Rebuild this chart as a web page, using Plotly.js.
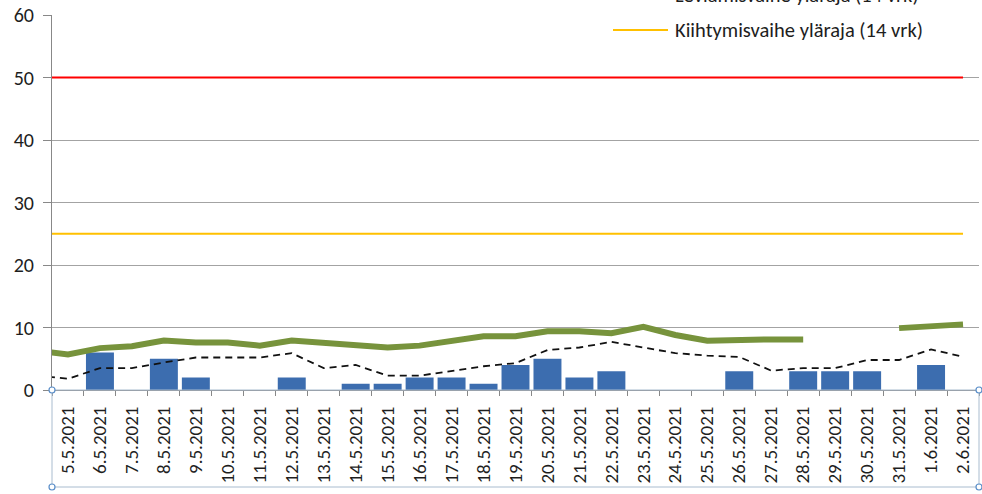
<!DOCTYPE html>
<html>
<head>
<meta charset="utf-8">
<script src="https://cdn.plot.ly/plotly-3.0.1.min.js"></script>
<style>html,body{margin:0;padding:0;background:#fff;}#chart{width:982px;height:494px;}</style>
</head>
<body>
<div id="chart"></div>
<script>
// Categories (days)
const prevDay = '4.5.2021';
const dates = ['5.5.2021','6.5.2021','7.5.2021','8.5.2021','9.5.2021','10.5.2021','11.5.2021','12.5.2021',
  '13.5.2021','14.5.2021','15.5.2021','16.5.2021','17.5.2021','18.5.2021','19.5.2021','20.5.2021',
  '21.5.2021','22.5.2021','23.5.2021','24.5.2021','25.5.2021','26.5.2021','27.5.2021','28.5.2021',
  '29.5.2021','30.5.2021','31.5.2021','1.6.2021','2.6.2021'];
// Daily new cases (bars)
const cases = [0,6,0,5,2,0,0,2,0,1,1,2,2,1,4,5,2,3,0,0,0,3,0,3,3,3,0,4,0];
// Incidence 14 days (green), value of previous day first
const inc14Prev = 6.3;
const inc14 = [5.7,6.7,7.0,7.9,7.6,7.6,7.1,7.9,7.5,7.1,6.8,7.1,7.9,8.6,8.6,9.4,9.4,9.1,10.1,8.8,7.9,8.1,8.1,8.1,null,null,9.9,10.3,10.5];
// Incidence (dashed)
const incDashPrev = 2.3;
const incDash = [1.8,3.5,3.5,4.4,5.2,5.2,5.2,5.9,3.5,4.0,2.3,2.3,3.1,3.8,4.3,6.4,6.8,7.7,6.8,5.9,5.5,5.3,3.1,3.5,3.5,4.8,4.8,6.5,5.3];
// Thresholds
const spreadLimit = 50;
const accelLimit = 25;
const spreadName = 'Leviämisvaihe yläraja (14 vrk)';
const accelName = 'Kiihtymisvaihe yläraja (14 vrk)';
const yTicks = [0,10,20,30,40,50,60];

const FONT = 'Carlito, "Liberation Sans", Arial, sans-serif';
const lastDay = dates[dates.length-1];

const traces = [
  {type:'bar', name:'Tapaukset', x:dates, y:cases, marker:{color:'#3c6daf'}, showlegend:false},
  {type:'scatter', mode:'lines', name:'Ilmaantuvuus', x:[prevDay].concat(dates), y:[incDashPrev].concat(incDash),
   line:{color:'#111', width:1.8, dash:'7px,5px'}, showlegend:false},
  {type:'scatter', mode:'lines', name:'Ilmaantuvuus (14 vrk)', x:[prevDay].concat(dates), y:[inc14Prev].concat(inc14),
   line:{color:'#77933c', width:6}, connectgaps:false, showlegend:false},
  {type:'scatter', mode:'lines', name:spreadName, x:[prevDay,lastDay], y:[spreadLimit,spreadLimit],
   line:{color:'#ff0000', width:2.2}, showlegend:false},
  {type:'scatter', mode:'lines', name:accelName, x:[prevDay,lastDay], y:[accelLimit,accelLimit],
   line:{color:'#ffc000', width:2.2}, showlegend:false}
];

const L = 52, R = 979, T = 15, B = 390;
const px = v => (v - L) / (R - L);
const py = v => 1 - (v - T) / (B - T);

const layout = {
  width:982, height:494,
  margin:{l:L, r:982-R, t:T, b:494-B, autoexpand:false},
  paper_bgcolor:'#fff', plot_bgcolor:'#fff',
  font:{family:FONT, color:'#1e1e1e', size:16},
  bargap:0.125,
  showlegend:false,
  xaxis:{type:'category', categoryorder:'array', categoryarray:[prevDay].concat(dates),
    range:[0.5, dates.length+0.5], tickangle:-90, ticks:'outside', tickson:'boundaries', ticklen:5,
    tickcolor:'#888', showline:true, linecolor:'#888', linewidth:1, showgrid:false, zeroline:false,
    tickfont:{family:FONT, size:19, color:'#1e1e1e'}, ticklabelstandoff:8},
  yaxis:{range:[0,60], tickvals:yTicks, showgrid:true, gridcolor:'#a3a3a3', gridwidth:1,
    showline:true, linecolor:'#888', ticks:'outside', ticklen:8, tickcolor:'#888', zeroline:false,
    tickfont:{family:FONT, size:20, color:'#1e1e1e'}, ticklabelstandoff:5},
  shapes:[
    {type:'line', xref:'paper', yref:'paper', x0:px(613), x1:px(668), y0:py(-5), y1:py(-5), line:{color:'#ff0000', width:2.2}},
    {type:'line', xref:'paper', yref:'paper', x0:px(613), x1:px(668), y0:py(30), y1:py(30), line:{color:'#ffc000', width:2.2}},
    {type:'rect', xref:'paper', yref:'paper', x0:0, x1:1, y0:py(390), y1:py(487), line:{color:'#a9bccf', width:1}},
    {type:'circle', xref:'paper', yref:'paper', xsizemode:'pixel', ysizemode:'pixel', xanchor:0, yanchor:py(390), x0:-3, x1:3, y0:-3, y1:3, fillcolor:'#fff', line:{color:'#5b8fc9', width:1.2}},
    {type:'circle', xref:'paper', yref:'paper', xsizemode:'pixel', ysizemode:'pixel', xanchor:0, yanchor:py(487), x0:-3, x1:3, y0:-3, y1:3, fillcolor:'#fff', line:{color:'#5b8fc9', width:1.2}},
    {type:'circle', xref:'paper', yref:'paper', xsizemode:'pixel', ysizemode:'pixel', xanchor:1, yanchor:py(390), x0:-3, x1:3, y0:-3, y1:3, fillcolor:'#fff', line:{color:'#5b8fc9', width:1.2}},
    {type:'circle', xref:'paper', yref:'paper', xsizemode:'pixel', ysizemode:'pixel', xanchor:1, yanchor:py(487), x0:-3, x1:3, y0:-3, y1:3, fillcolor:'#fff', line:{color:'#5b8fc9', width:1.2}}
  ],
  annotations:[
    {xref:'paper', yref:'paper', x:px(673), y:py(-5), xanchor:'left', yanchor:'middle', text:spreadName, showarrow:false, font:{family:FONT, size:20.5, color:'#1e1e1e'}},
    {xref:'paper', yref:'paper', x:px(673), y:py(30), xanchor:'left', yanchor:'middle', text:accelName, showarrow:false, font:{family:FONT, size:20.5, color:'#1e1e1e'}}
  ]
};

Plotly.newPlot('chart', traces, layout, {displayModeBar:false, staticPlot:true});
</script>
</body>
</html>
